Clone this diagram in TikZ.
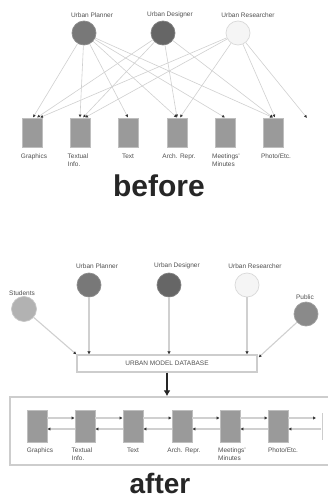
\documentclass[tikz,border=0pt]{standalone}
\usepackage{fontspec}
\setmainfont{Liberation Sans}
\usetikzlibrary{arrows.meta,calc}
\definecolor{lineg}{HTML}{D0D0D0}
\definecolor{boxg}{HTML}{CDCDCD}
\definecolor{docfill}{HTML}{9A9A9A}
\definecolor{docdraw}{HTML}{BEBEBE}
\definecolor{txtg}{HTML}{505050}
\begin{document}
\begin{tikzpicture}[x=1pt,y=-1pt,
  lbl/.style={font=\fontsize{6.5}{7.5}\selectfont, text=txtg, inner sep=0pt, align=left},
  actor/.style={circle, minimum size=24pt, inner sep=0pt, line width=0.7pt},
  docb/.style={rectangle, minimum width=20pt, minimum height=29pt, inner sep=0pt, fill=docfill, draw=docdraw, line width=0.9pt},
  doca/.style={docb, minimum height=32pt},
  link/.style={draw=lineg, line width=0.6pt, -{Latex[length=3pt,width=3pt,color=black!80]}},
  vlink/.style={draw=lineg, line width=1.6pt, -{Latex[length=3pt,width=3.5pt,color=black!80]}},
  hlink/.style={draw=lineg, line width=1.2pt, -{Latex[length=3pt,width=3.5pt,color=black!80]}},
  big/.style={font=\fontsize{30}{33}\selectfont\bfseries, text=black!85, inner sep=0pt}
]
\useasboundingbox[fill=white] (0,0) rectangle (327,503);

% ---------------- before ----------------
\node[lbl, anchor=center] (lpl) at (92,15) {Urban Planner};
\node[lbl, anchor=center] (lds) at (170,15) {Urban Designer};
\node[lbl, anchor=center] (lrs) at (248,15) {Urban Researcher};
\node[actor, fill=black!53, draw=black!45] (bpl) at (84,33) {};
\node[actor, fill=black!60, draw=black!50] (bds) at (163,33) {};
\node[actor, fill=black!4, draw=black!15] (brs) at (238,33) {};

\foreach \i/\x in {1/32,2/80,3/128,4/177,5/225,6/273}
  \node[docb] (b\i) at (\x,132.5) {};
\coordinate (bend) at (307,118);

\node[lbl, anchor=north] at (34,154) {Graphics};
\node[lbl, anchor=north] at (78,154) {Textual\\Info.};
\node[lbl, anchor=north] at (128,154) {Text};
\node[lbl, anchor=north] at (179,154) {Arch. Repr.};
\node[lbl, anchor=north] at (226,154) {Meetings'\\Minutes};
\node[lbl, anchor=north] at (276,154) {Photo/Etc.};

% planner links
\draw[link] (bpl) -- ([xshift=1pt]b1.north);
\draw[link] (bpl) -- (b2.north);
\draw[link] (bpl) -- (b3.north);
\draw[link] (bpl) -- (b4.north);
\draw[link] (bpl) -- (b5.north);
\draw[link] (bpl) -- (b6.north);
% designer links
\draw[link] (bds) -- ([xshift=5pt]b1.north);
\draw[link] (bds) -- ([xshift=3pt]b2.north);
\draw[link] (bds) -- (b4.north);
\draw[link] (bds) -- (b6.north);
% researcher links
\draw[link] (brs) -- ([xshift=8pt]b1.north);
\draw[link] (brs) -- ([xshift=5pt]b2.north);
\draw[link] (brs) -- ([xshift=3pt]b4.north);
\draw[link] (brs) -- ([xshift=2pt]b6.north);
\draw[link] (brs) -- (bend);

\node[big] (before) at (159,186) {before};

% ---------------- after ----------------
\node[lbl, anchor=center] (apl1) at (97,266) {Urban Planner};
\node[lbl, anchor=center] (ads1) at (177,266) {Urban Designer};
\node[lbl, anchor=center] (ars1) at (255,266) {Urban Researcher};
\node[lbl, anchor=center] (ast1) at (22,293) {Students};
\node[lbl, anchor=center] (apu1) at (305,297) {Public};

\node[actor, fill=black!53, draw=black!45] (apl) at (89,285) {};
\node[actor, fill=black!60, draw=black!50] (ads) at (169,285) {};
\node[actor, fill=black!4, draw=black!15] (ars) at (247,285) {};
\node[actor, fill=black!30, draw=black!22, minimum size=25pt] (ast) at (24,309) {};
\node[actor, fill=black!46, draw=black!38] (apu) at (306,314) {};

\node[draw=boxg, line width=1.2pt, fill=white, minimum width=180pt, minimum height=17pt, inner sep=0pt,
      font=\fontsize{6.5}{7.5}\selectfont, text=txtg] (db) at (167,363.5) {URBAN MODEL DATABASE};

\draw[vlink] (apl) -- (apl |- db.north);
\draw[vlink] (ads) -- (ads |- db.north);
\draw[vlink] (ars) -- (ars |- db.north);
\draw[link, line width=1.1pt] (ast) -- (db.north west);
\draw[link, line width=1.1pt] (apu) -- ($(db.north east)+(1,3)$);

\node[draw=boxg, line width=1.5pt, minimum width=325pt, minimum height=68pt, inner sep=0pt] (frame) at (172.5,431) {};
\draw[line width=2.2pt, black!85, -{Latex[length=6pt,width=7pt]}] (db.south) -- (db.south |- frame.north);

\foreach \i/\x in {1/37,2/85,3/133,4/182,5/230,6/278}
  \node[doca] (a\i) at (\x,426) {};
\foreach \i/\j in {1/2,2/3,3/4,4/5,5/6} {
  \draw[hlink] ([yshift=8pt]a\i.east) -- ([yshift=8pt]a\j.west);
  \draw[hlink] ([yshift=-3pt]a\j.west) -- ([yshift=-3pt]a\i.east);
}
\coordinate (t1) at (316,418);
\coordinate (t2) at (321,429);
\coordinate (e1) at (322,413);
\coordinate (e2) at (322,440);
\draw[hlink] ([yshift=8pt]a6.east) -- (t1);
\draw[hlink] (t2) -- ([yshift=-3pt]a6.east);
\draw[draw=boxg, line width=1pt] (e1) -- (e2);

\node[lbl, anchor=north] at (40,448) {Graphics};
\node[lbl, anchor=north] at (82,448) {Textual\\Info.};
\node[lbl, anchor=north] at (133,448) {Text};
\node[lbl, anchor=north] at (184,448) {Arch. Repr.};
\node[lbl, anchor=north] at (232,448) {Meetings'\\Minutes};
\node[lbl, anchor=north] at (283,448) {Photo/Etc.};

\node[big, anchor=base, font=\fontsize{28}{31}\selectfont\bfseries] (after) at (160,493) {after};
\end{tikzpicture}
\end{document}
